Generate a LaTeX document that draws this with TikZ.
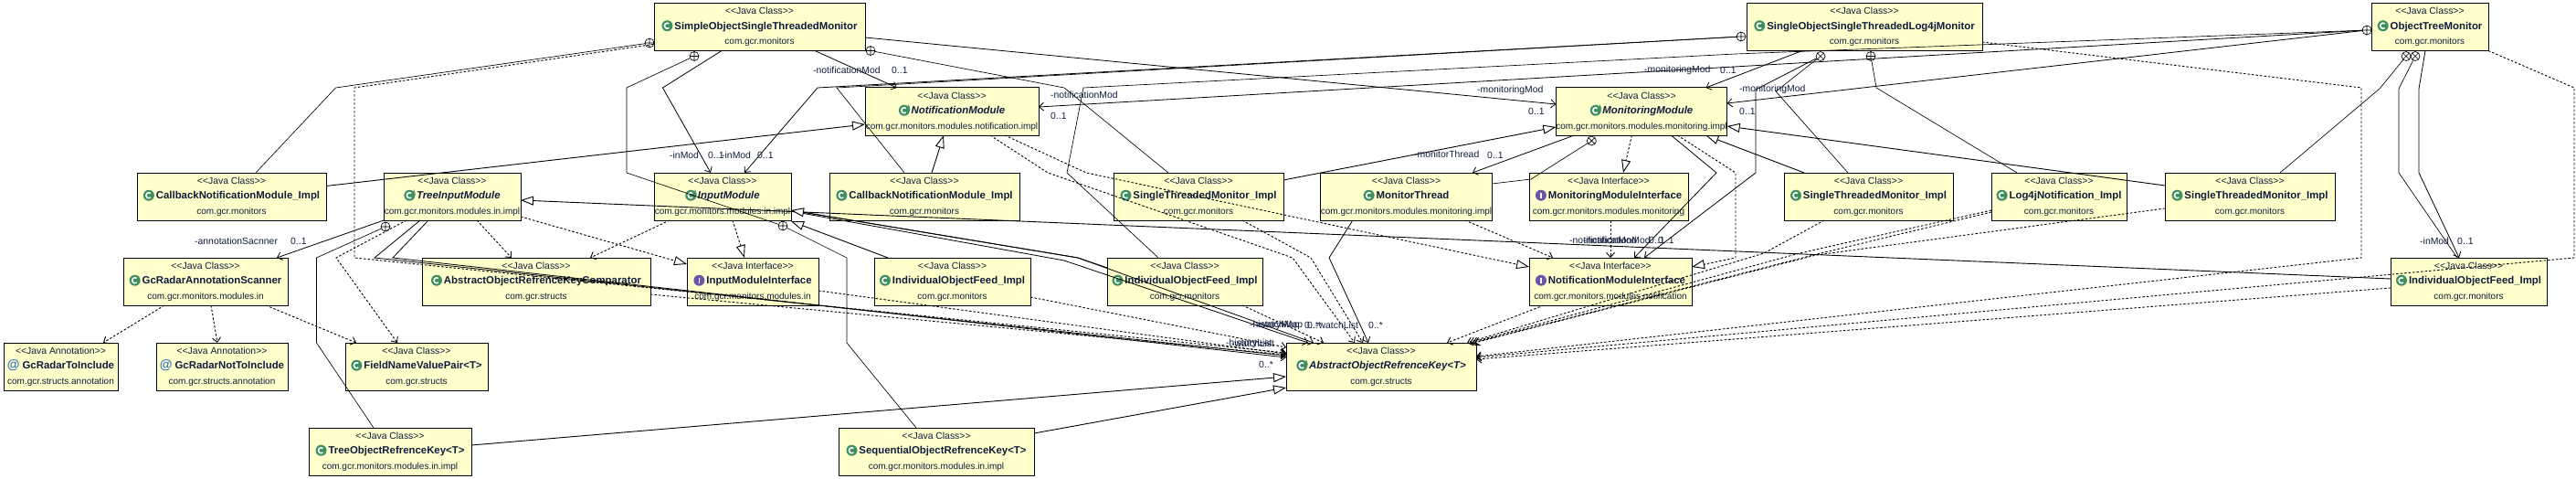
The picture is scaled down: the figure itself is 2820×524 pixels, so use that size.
\documentclass[tikz,border=0pt]{standalone}
\usepackage{fontspec}
\setmainfont{Liberation Sans}
\usetikzlibrary{arrows.meta}
\definecolor{boxyellow}{HTML}{FFFFCC}
\definecolor{ink}{HTML}{101C3C}
\definecolor{iconclass}{HTML}{3F8F62}
\definecolor{iconiface}{HTML}{6A55A8}
\definecolor{iconanno}{HTML}{2F6FC4}

\newcommand{\fsstereo}{\fontsize{10.4}{16.5}\selectfont}
\newcommand{\fsname}{\fontsize{11.4}{16.5}\selectfont\bfseries}
\newcommand{\fspkg}{\fontsize{10}{16.5}\selectfont}
\newcommand{\roundicon}[2]{\raisebox{-2pt}{\begin{pgfpicture}\pgfsetfillcolor{#1}\pgfpathcircle{\pgfpointorigin}{6pt}\pgfusepath{fill}\pgfsetstrokecolor{white}\pgfsetlinewidth{1.5pt}#2\pgfusepath{stroke}\end{pgfpicture}}\hspace{2pt}}
\newcommand{\iconc}{\roundicon{iconclass}{\pgfpathmoveto{\pgfpointpolar{50}{3pt}}\pgfpatharc{50}{310}{3pt}}}
\newcommand{\iconi}{\roundicon{iconiface}{\pgfpathmoveto{\pgfpoint{0pt}{-3pt}}\pgfpathlineto{\pgfpoint{0pt}{3pt}}}}
\newcommand{\icona}{\iconc\hspace{-5pt}\raisebox{4pt}{\begin{pgfpicture}\pgfsetstrokecolor{iconclass}\pgfsetlinewidth{.7pt}\pgfpathmoveto{\pgfpoint{0pt}{0pt}}\pgfpathlineto{\pgfpoint{1.5pt}{5pt}}\pgfpathlineto{\pgfpoint{3pt}{0pt}}\pgfusepath{stroke}\end{pgfpicture}}\hspace{1pt}}
\newcommand{\iconat}{{\color{iconanno}\fontsize{14}{16.5}\selectfont\bfseries @}\hspace{3pt}}
\newcommand{\umlcontent}[4]{{\fsstereo\textless\kern0pt\textless#1\textgreater\kern0pt\textgreater}\\{#2\fsname #3}\\{\fspkg #4}}

\tikzset{
  umlbox/.style={rectangle, draw=black, line width=1pt, fill=boxyellow, minimum height=52pt,
                 inner sep=0pt, outer sep=0pt, align=center, text=ink, font=\fontsize{10}{16.5}\selectfont},
  umllabel/.style={anchor=west, inner sep=0pt, text=ink, font=\fontsize{10.4}{12}\selectfont},
  assocline/.style={line width=.8pt, -{Straight Barb[length=5pt, width=9pt]}},
  genline/.style={line width=.9pt, -{Triangle[length=14pt, width=10pt, fill=white]}},
  depline/.style={line width=.9pt, dash pattern=on 2.5pt off 2pt, -{Straight Barb[length=5pt, width=9pt]}},
  realline/.style={line width=.9pt, dash pattern=on 2.5pt off 2pt, -{Triangle[length=14pt, width=10pt, fill=white]}},
  nestline/.style={line width=.65pt, shorten <=5pt},
  plusmark/.pic={\draw[line width=.65pt, solid, -, shorten <=0pt, shorten >=0pt]
        (0,0) circle (5) (-5,0) -- (5,0) (0,-5) -- (0,5);},
  timesmark/.pic={\draw[line width=.65pt, solid, -, shorten <=0pt, shorten >=0pt]
        (0,0) circle (5) (-3.5,-3.5) -- (3.5,3.5) (-3.5,3.5) -- (3.5,-3.5);},
}

\begin{document}
\begin{tikzpicture}[x=1pt, y=-1pt]
  \useasboundingbox (0,0) rectangle (2820,524);
  % ---- top row ----
  \node[umlbox, minimum width=231pt] (simpleobj) at (831.5,29.5)
        {\umlcontent{Java Class}{\iconc}{SimpleObjectSingleThreadedMonitor}{com.gcr.monitors}};
  \node[umlbox, minimum width=258pt] (log4jmon) at (2041,29.5)
        {\umlcontent{Java Class}{\iconc}{SingleObjectSingleThreadedLog4jMonitor}{com.gcr.monitors}};
  \node[umlbox, minimum width=128pt] (treemon) at (2660,29.5)
        {\umlcontent{Java Class}{\iconc}{ObjectTreeMonitor}{com.gcr.monitors}};
  % ---- module classes ----
  \node[umlbox, minimum width=190pt] (notifmod) at (1042,122)
        {\umlcontent{Java Class}{\icona}{\textit{NotificationModule}}{com.gcr.monitors.modules.notification.impl}};
  \node[umlbox, minimum width=186pt] (monmod) at (1797,122)
        {\umlcontent{Java Class}{\icona}{\textit{MonitoringModule}}{com.gcr.monitors.modules.monitoring.impl}};
  % ---- third row ----
  \node[umlbox, minimum width=207pt] (callbackleft) at (253.5,215)
        {\umlcontent{Java Class}{\iconc}{CallbackNotificationModule\_Impl}{com.gcr.monitors}};
  \node[umlbox, minimum width=150pt] (treeinput) at (495,215)
        {\umlcontent{Java Class}{\icona}{\textit{TreeInputModule}}{com.gcr.monitors.modules.in.impl}};
  \node[umlbox, minimum width=150pt] (inputmod) at (791,215)
        {\umlcontent{Java Class}{\icona}{\textit{InputModule}}{com.gcr.monitors.modules.in.impl}};
  \node[umlbox, minimum width=208pt] (callbackmid) at (1012,215)
        {\umlcontent{Java Class}{\iconc}{CallbackNotificationModule\_Impl}{com.gcr.monitors}};
  \node[umlbox, minimum width=186pt] (stmonleft) at (1312,215)
        {\umlcontent{Java Class}{\iconc}{SingleThreadedMonitor\_Impl}{com.gcr.monitors}};
  \node[umlbox, minimum width=185pt] (monthread) at (1539.5,215)
        {\umlcontent{Java Class}{\iconc}{MonitorThread}{com.gcr.monitors.modules.monitoring.impl}};
  \node[umlbox, minimum width=174pt] (moniface) at (1761,215)
        {\umlcontent{Java Interface}{\iconi}{MonitoringModuleInterface}{com.gcr.monitors.modules.monitoring}};
  \node[umlbox, minimum width=185pt] (stmonmid) at (2045.5,215)
        {\umlcontent{Java Class}{\iconc}{SingleThreadedMonitor\_Impl}{com.gcr.monitors}};
  \node[umlbox, minimum width=148pt] (log4jnotif) at (2254,215)
        {\umlcontent{Java Class}{\iconc}{Log4jNotification\_Impl}{com.gcr.monitors}};
  \node[umlbox, minimum width=186pt] (stmonright) at (2463,215)
        {\umlcontent{Java Class}{\iconc}{SingleThreadedMonitor\_Impl}{com.gcr.monitors}};
  % ---- fourth row ----
  \node[umlbox, minimum width=180pt] (scanner) at (225,308)
        {\umlcontent{Java Class}{\iconc}{GcRadarAnnotationScanner}{com.gcr.monitors.modules.in}};
  \node[umlbox, minimum width=250pt] (keycomp) at (587,308)
        {\umlcontent{Java Class}{\iconc}{AbstractObjectRefrenceKeyComparator}{com.gcr.structs}};
  \node[umlbox, minimum width=144pt] (inputiface) at (824,308)
        {\umlcontent{Java Interface}{\iconi}{InputModuleInterface}{com.gcr.monitors.modules.in}};
  \node[umlbox, minimum width=171pt] (feedleft) at (1042.5,308)
        {\umlcontent{Java Class}{\iconc}{IndividualObjectFeed\_Impl}{com.gcr.monitors}};
  \node[umlbox, minimum width=170pt] (feedmid) at (1297,308)
        {\umlcontent{Java Class}{\iconc}{IndividualObjectFeed\_Impl}{com.gcr.monitors}};
  \node[umlbox, minimum width=178pt] (notiface) at (1763,308)
        {\umlcontent{Java Interface}{\iconi}{NotificationModuleInterface}{com.gcr.monitors.modules.notification}};
  \node[umlbox, minimum width=171pt] (feedright) at (2702.5,308)
        {\umlcontent{Java Class}{\iconc}{IndividualObjectFeed\_Impl}{com.gcr.monitors}};
  % ---- lower rows ----
  \node[umlbox, minimum width=125pt] (radarinc) at (66.5,401)
        {\umlcontent{Java Annotation}{\iconat}{GcRadarToInclude}{com.gcr.structs.annotation}};
  \node[umlbox, minimum width=144pt] (radarnot) at (243,401)
        {\umlcontent{Java Annotation}{\iconat}{GcRadarNotToInclude}{com.gcr.structs.annotation}};
  \node[umlbox, minimum width=156pt] (fieldpair) at (456,401)
        {\umlcontent{Java Class}{\iconc}{FieldNameValuePair<T>}{com.gcr.structs}};
  \node[umlbox, minimum width=208pt] (abskey) at (1512,401)
        {\umlcontent{Java Class}{\icona}{\textit{AbstractObjectRefrenceKey<T>}}{com.gcr.structs}};
  \node[umlbox, minimum width=178pt] (treekey) at (427,494)
        {\umlcontent{Java Class}{\iconc}{TreeObjectRefrenceKey<T>}{com.gcr.monitors.modules.in.impl}};
  \node[umlbox, minimum width=214pt] (seqkey) at (1025,494)
        {\umlcontent{Java Class}{\iconc}{SequentialObjectRefrenceKey<T>}{com.gcr.monitors.modules.in.impl}};
  % ---- nested classes ----
  \draw[nestline] ([xshift=-5,yshift=-43.5]simpleobj.north west) pic {plusmark} -- (367.5,96)
        -- ([xshift=130]callbackleft.north west);
  \draw[nestline, shorten >=5pt] ([xshift=44,yshift=-6]simpleobj.south west) pic {plusmark} -- (686,96) -- (686,189)
        -- ([xshift=141,yshift=-6]inputmod.south west) pic {plusmark};
  \draw[nestline] ([xshift=141,yshift=-6]inputmod.south west) -- (927,282) -- (927,375)
        -- ([xshift=85]seqkey.north west);
  \draw[nestline] ([xshift=2,yshift=-7]treeinput.south west) pic {plusmark} -- (346.5,282) -- (346.5,375)
        -- ([xshift=71]treekey.north west);
  \draw[nestline] ([xshift=6]simpleobj.south east) pic {plusmark} -- (1165,96)
        -- ([xshift=60]stmonleft.north west);
  \draw[nestline] ([xshift=-6,yshift=-36.5]log4jmon.north west) pic {plusmark} -- (916,96)
        -- ([xshift=82]callbackmid.north west);
  \draw[nestline] ([xshift=39,yshift=-6]monmod.south west) pic {timesmark} -- (1676,196)
        -- ([yshift=-12]monthread.north east);
  \draw[nestline] ([xshift=81,yshift=-6]log4jmon.south west) pic {timesmark} -- (1944,100)
        -- ([xshift=70]stmonmid.north west);
  \draw[nestline] ([xshift=136,yshift=-6]log4jmon.south west) pic {plusmark} -- (2054,96)
        -- ([xshift=28]log4jnotif.north west);
  \draw[nestline] ([xshift=38,yshift=-6]treemon.south west) pic {timesmark} -- (2605,97)
        -- ([xshift=126]stmonright.north west);
  \draw[nestline] ([xshift=48,yshift=-6]treemon.south west) pic {timesmark} -- (2626,97) -- (2626,189)
        -- ([xshift=73]feedright.north west);
  \draw[nestline] ([xshift=-5,yshift=-29.5]treemon.north west) pic {plusmark} -- (1900,59) -- (1186,96) -- (1168,189)
        -- ([xshift=56]feedmid.north west);
  % ---- associations ----
  \draw[assocline] ([xshift=74]simpleobj.south west) -- (725.5,96) -- ([xshift=62]inputmod.north west);
  \draw[assocline, shorten <=5pt] ([xshift=-6,yshift=-36.5]log4jmon.north west) -- (895,96)
        -- ([xshift=99]inputmod.north west);
  \draw[assocline] ([xshift=176]simpleobj.south west) -- ([xshift=35]notifmod.north west);
  \draw[assocline, shorten <=5pt] ([xshift=-5,yshift=-29.5]treemon.north west) -- ([yshift=-21]notifmod.north east);
  \draw[assocline] ([yshift=-37.5]simpleobj.north east) -- ([yshift=-18]monmod.north west);
  \draw[assocline] ([xshift=20]monmod.south west) -- ([xshift=166]monthread.north west);
  \draw[assocline] ([xshift=126]monmod.south west) -- (1879,189) -- ([xshift=115]notiface.north west);
  \draw[assocline, shorten <=5pt] ([xshift=81,yshift=-6]log4jmon.south west) -- (1922,98) -- (1922,189)
        -- ([xshift=126]notiface.north west);
  \draw[assocline] ([xshift=61]log4jmon.south west) -- ([xshift=164]monmod.north west);
  \draw[assocline, shorten <=5pt] ([xshift=-5,yshift=-29.5]treemon.north west) -- ([yshift=-17]monmod.north east);
  \draw[assocline] ([xshift=59]treemon.south west) -- (2648,97) -- (2648,189) -- ([xshift=75]feedright.north west);
  \draw[assocline] (treeinput.south west) -- ([xshift=168]scanner.north west);
  \draw[assocline] ([yshift=-41]inputmod.north east) -- (1180,282) -- ([xshift=30]abskey.north west);
  \draw[assocline] ([yshift=-42]inputmod.north east) -- (1165,285) -- ([xshift=24]abskey.north west);
  \draw[assocline] ([xshift=35]monthread.south west) -- (1455,282) -- ([xshift=90]abskey.north west);
  \draw[assocline] ([xshift=40]treeinput.south west) -- (410,282) -- ([yshift=-14]abskey.north west);
  \draw[assocline] ([xshift=49]treeinput.south west) -- (430,282) -- ([yshift=-16]abskey.north west);
  % ---- generalisations ----
  \draw[genline] ([yshift=-14.5]callbackleft.north east) -- ([yshift=-40]notifmod.north west);
  \draw[genline] ([xshift=112]callbackmid.north west) -- ([xshift=86]notifmod.south west);
  \draw[genline] ([yshift=-8]stmonleft.north east) -- ([yshift=-43]monmod.north west);
  \draw[genline] ([xshift=22]stmonmid.north west) -- ([xshift=164]monmod.south west);
  \draw[genline] ([yshift=-14]stmonright.north west) -- ([yshift=-42]monmod.north east);
  \draw[genline] ([yshift=-23]feedright.north west) -- ([yshift=-30]treeinput.north east);
  \draw[genline] ([xshift=15]feedleft.north west) -- ([yshift=-1]inputmod.south east);
  \draw[genline] ([yshift=-11]feedmid.north west) -- (1180,282) -- ([yshift=-41]inputmod.north east);
  \draw[genline] ([yshift=-19]treekey.north east) -- ([yshift=-37]abskey.north west);
  \draw[genline] ([yshift=-6]seqkey.north east) -- ([yshift=-49]abskey.north west);
  % ---- realisations ----
  \draw[realline] ([xshift=83]monmod.south west) -- ([xshift=103]moniface.north west);
  \draw[realline] ([xshift=86]inputmod.south west) -- ([xshift=63]inputiface.north west);
  \draw[realline] ([yshift=-48]treeinput.north east) -- ([yshift=-7]inputiface.north west);
  \draw[realline] ([xshift=153]notifmod.south west) -- (1189,189) -- ([yshift=-10]notiface.north west);
  \draw[realline] ([xshift=133]monmod.south west) -- (1900,189) -- (1900,282) -- ([yshift=-10]notiface.north east);
  % ---- dependencies ----
  \draw[depline] ([xshift=45]scanner.south west) -- ([xshift=109]radarinc.north west);
  \draw[depline] ([xshift=96]scanner.south west) -- ([xshift=67]radarnot.north west);
  \draw[depline] ([xshift=156]scanner.south west) -- ([xshift=12]fieldpair.north west);
  \draw[depline] ([xshift=25]treeinput.south west) -- (368,282) -- ([xshift=57]fieldpair.north west);
  \draw[depline] ([xshift=102]treeinput.south west) -- ([xshift=98]keycomp.north west);
  \draw[depline] ([xshift=17]inputmod.south west) -- ([xshift=184]keycomp.north west);
  \draw[depline] ([xshift=89]moniface.south west) -- ([xshift=89]notiface.north west);
  \draw[depline] ([xshift=158]monthread.south west) -- ([xshift=26]notiface.north west);
  \draw[depline] ([xshift=-1,yshift=-45]simpleobj.north west) -- (388,96) -- (388,282) -- ([yshift=-11]abskey.north west);
  \draw[depline] ([yshift=-40]keycomp.north east) -- ([yshift=-13]abskey.north west);
  \draw[depline] ([yshift=-36]inputiface.north east) -- ([yshift=-12]abskey.north west);
  \draw[depline] ([yshift=-43]feedleft.north east) -- ([yshift=-5]abskey.north west);
  \draw[depline] ([xshift=137]notifmod.south west) -- (1147,189) -- (1415,282) -- ([xshift=75]abskey.north west);
  \draw[depline] ([xshift=141]stmonleft.south west) -- (1435,282) -- ([xshift=84]abskey.north west);
  \draw[depline] ([xshift=148]feedmid.south west) -- ([xshift=41]abskey.north west);
  \draw[depline] ([xshift=16]notiface.south west) -- ([xshift=176]abskey.north west);
  \draw[depline] ([xshift=44]stmonmid.south west) -- (1931,277) -- ([xshift=198]abskey.north west);
  \draw[depline] ([yshift=-41]log4jnotif.north west) -- (1970,277) -- ([xshift=201]abskey.north west);
  \draw[depline] ([yshift=-43]log4jnotif.north west) -- (1985,279) -- ([xshift=204]abskey.north west);
  \draw[depline] ([yshift=-39]stmonright.north west) -- (1988,279) -- ([xshift=206]abskey.north west);
  \draw[depline] ([yshift=-42.5]log4jmon.north east) -- (2585,96) -- (2585,282) -- ([yshift=-15]abskey.north east);
  \draw[depline] (treemon.south east) -- (2818,96) -- (2818,282) -- ([yshift=-16]abskey.north east);
  \draw[depline] ([yshift=-33]feedright.north west) -- ([yshift=-18]abskey.north east);
  % ---- role labels ----
  \node[umllabel] (lblinmodb) at (733,170){-inMod};
  \node[umllabel] (lblinmultb) at (775,170){0..1};
  \node[umllabel] (lblinmodc) at (790,170){-inMod};
  \node[umllabel] (lblinmultc) at (829,170){0..1};
  \node[umllabel] (lblnotifb) at (890,77){-notificationMod};
  \node[umllabel] (lblnotifmultb) at (976,77){0..1};
  \node[umllabel] (lblnotifc) at (1150,104){-notificationMod};
  \node[umllabel] (lblnotifmultc) at (1150,127){0..1};
  \node[umllabel] (lblmonb) at (1617,99){-monitoringMod};
  \node[umllabel] (lblmonmultb) at (1673,122){0..1};
  \node[umllabel] (lblthread) at (1548,169){-monitorThread};
  \node[umllabel] (lblthreadmult) at (1628,170){0..1};
  \node[umllabel] (lblmonc) at (1800,77){-monitoringMod};
  \node[umllabel] (lblmonmultc) at (1883,77){0..1};
  \node[umllabel] (lblmond) at (1904,98){-monitoringMod};
  \node[umllabel] (lblmonmultd) at (1904,122){0..1};
  \node[umllabel] (lblscan) at (213,264){-annotationSacnner};
  \node[umllabel] (lblscanmult) at (318,264){0..1};
  \node[umllabel] (lblinmodr) at (2649,264){-inMod};
  \node[umllabel] (lblinmultr) at (2690,264){0..1};
  \node[umllabel] (lblnotifd) at (1718,263){-notificationMod};
  \node[umllabel] (lblnotife) at (1733,263){-notificationMod};
  \node[umllabel] (lblnotifmultd) at (1805,263){0..1};
  \node[umllabel] (lblnotifmulte) at (1815,263){0..1};
  \node[umllabel] (lblhistmap) at (1368,356){-historyMap};
  \node[umllabel] (lblwatchmap) at (1375,356){-watchMap};
  \node[umllabel] (lblhistmult) at (1428,356){0..*};
  \node[umllabel] (lblwatchmult) at (1431,356){0..*};
  \node[umllabel] (lblwatchlist) at (1440,356){-watchList};
  \node[umllabel] (lbllistmult) at (1498,356){0..*};
  \node[umllabel] (lblhistlist) at (1342,376){-historyList};
  \node[umllabel] (lblwatchleft) at (1348,376){-watchList};
  \node[umllabel] (lblleftmult) at (1378,399){0..*};
\end{tikzpicture}
\end{document}
